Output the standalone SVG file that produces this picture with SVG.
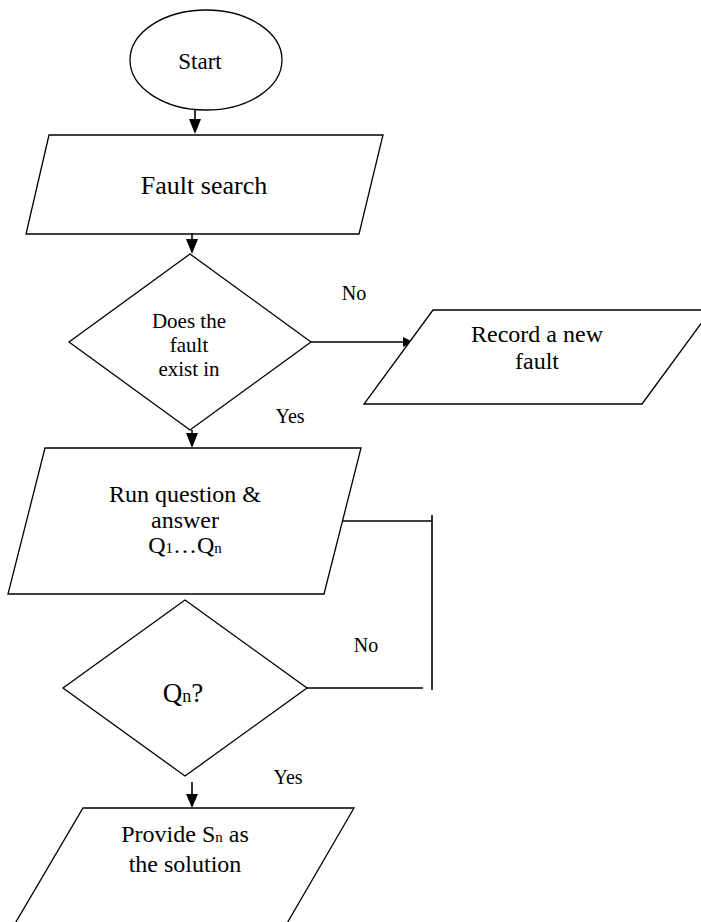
<svg xmlns="http://www.w3.org/2000/svg" width="701" height="922" viewBox="0 0 701 922">
<defs>
<style>
.s{fill:#fff;stroke:#000;stroke-width:1.3}
text{font-family:'Liberation Serif','Times New Roman',Tinos,'DejaVu Serif',serif;fill:#000;text-anchor:middle}
.c{fill:none;stroke:#000;stroke-width:1.6}
.l{font-size:20px}
</style>
</defs>
<rect width="701" height="922" fill="#fff"/>
<g id="connectors">
<line class="c" x1="195" y1="109" x2="195" y2="120"/>
<path d="M189,119 L201,119 L195,134 Z" fill="#000"/>
<line class="c" x1="192" y1="234" x2="192" y2="240"/>
<path d="M186,239 L198,239 L192,254 Z" fill="#000"/>
<line class="c" x1="311" y1="342" x2="404" y2="342"/>
<path d="M403,337 L413,342 L403,347 Z" fill="#000"/>
<line class="c" x1="192" y1="430" x2="192" y2="434"/>
<path d="M186,433 L198,433 L192,448 Z" fill="#000"/>
<line class="c" x1="343" y1="521" x2="432" y2="521"/>
<line class="c" x1="432" y1="515" x2="432" y2="690"/>
<line class="c" x1="307" y1="688" x2="423" y2="688"/>
<line class="c" x1="192" y1="782" x2="192" y2="795"/>
<path d="M186,794 L198,794 L192,808 Z" fill="#000"/>
</g>
<g id="start">
<ellipse class="s" cx="206" cy="60" rx="76" ry="50"/>
<text font-family="'Liberation Serif', 'Times New Roman', serif" x="200" y="69" font-size="23">Start</text>
</g>
<g id="fault-search">
<polygon class="s" points="49,135 383,135 359,234 26,234"/>
<text font-family="'Liberation Serif', 'Times New Roman', serif" x="204" y="194" font-size="26">Fault search</text>
</g>
<g id="decision-exist">
<polygon class="s" points="190,254 311,342 190,430 69,342"/>
<text font-family="'Liberation Serif', 'Times New Roman', serif" x="189" y="328" font-size="21">Does the</text>
<text font-family="'Liberation Serif', 'Times New Roman', serif" x="189" y="352" font-size="21">fault</text>
<text font-family="'Liberation Serif', 'Times New Roman', serif" x="189" y="376" font-size="21">exist in</text>
</g>
<g id="record-fault">
<polygon class="s" points="433,310 711,310 642,404 364,404"/>
<text font-family="'Liberation Serif', 'Times New Roman', serif" x="537" y="342" font-size="24">Record a new</text>
<text font-family="'Liberation Serif', 'Times New Roman', serif" x="537" y="369" font-size="24">fault</text>
</g>
<g id="run-qa">
<polygon class="s" points="45,448 361,448 324,594 8,594"/>
<text font-family="'Liberation Serif', 'Times New Roman', serif" x="185" y="502" font-size="24">Run question &amp;</text>
<text font-family="'Liberation Serif', 'Times New Roman', serif" x="185" y="528" font-size="24">answer</text>
<text font-family="'Liberation Serif', 'Times New Roman', serif" x="185" y="553" font-size="24">Q<tspan font-size="15">1</tspan>…Q<tspan font-size="15">n</tspan></text>
</g>
<g id="decision-qn">
<polygon class="s" points="185,600 307,688 185,776 63,688"/>
<text font-family="'Liberation Serif', 'Times New Roman', serif" x="183" y="702" font-size="27">Q<tspan font-size="18">n</tspan>?</text>
</g>
<g id="solution">
<polygon class="s" points="83,808 354,808 275,944 3,944"/>
<text font-family="'Liberation Serif', 'Times New Roman', serif" x="185" y="842" font-size="24">Provide S<tspan font-size="15">n</tspan> as</text>
<text font-family="'Liberation Serif', 'Times New Roman', serif" x="185" y="872" font-size="24">the solution</text>
</g>
<g id="labels">
<text font-family="'Liberation Serif', 'Times New Roman', serif" class="l" x="354" y="300" font-size="22">No</text>
<text font-family="'Liberation Serif', 'Times New Roman', serif" class="l" x="290" y="423">Yes</text>
<text font-family="'Liberation Serif', 'Times New Roman', serif" class="l" x="366" y="652">No</text>
<text font-family="'Liberation Serif', 'Times New Roman', serif" class="l" x="288" y="784">Yes</text>
</g>
</svg>
